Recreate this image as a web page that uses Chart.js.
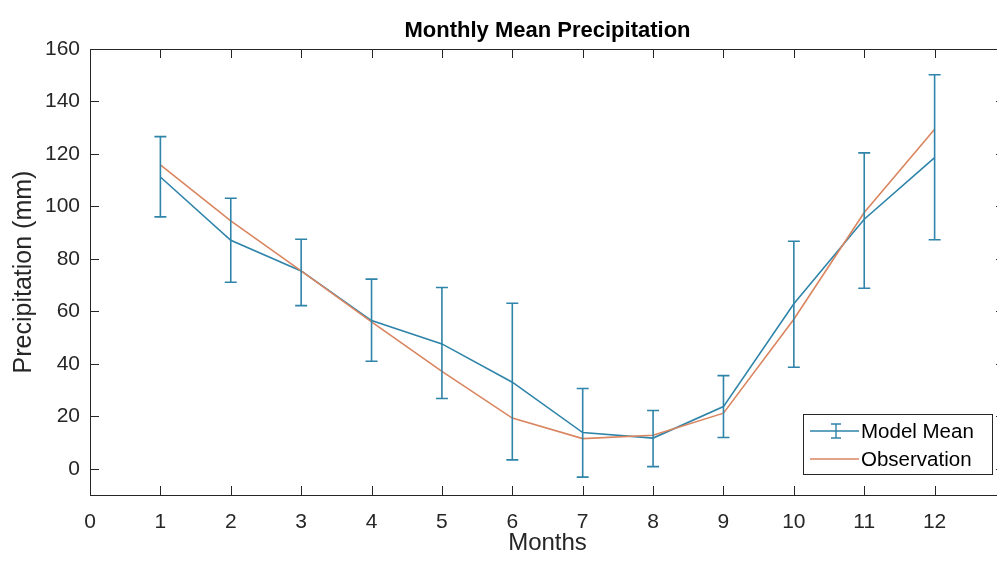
<!DOCTYPE html>
<html>
<head>
<meta charset="utf-8">
<script src="https://cdn.jsdelivr.net/npm/chart.js@4.4.1/dist/chart.umd.min.js"></script>
<style>
	html, body { margin: 0; padding: 0; background: #fff; overflow: hidden; }
	#wrap { width: 1012px; height: 563px; }
</style>
</head>
<body>
<div id="wrap"><canvas id="chartPrecip" width="1012" height="563"></canvas></div>
<script>
var months = [1, 2, 3, 4, 5, 6, 7, 8, 9, 10, 11, 12];
var modelMean = [111.2, 87.1, 75.4, 56.5, 47.6, 33.0, 13.8, 11.7, 23.7, 62.9, 95.1, 118.6];
var observation = [115.8, 94.5, 75.4, 56.0, 37.1, 19.3, 11.5, 12.8, 21.2, 57.0, 97.7, 129.4];
var errUpper = [126.6, 103.1, 87.5, 72.3, 69.1, 63.1, 30.6, 22.2, 35.5, 86.7, 120.4, 150.2];
var errLower = [96.0, 71.1, 62.2, 41.0, 26.8, 3.4, -3.2, 0.8, 11.9, 38.7, 68.8, 87.3];
var xTicks = [0, 1, 2, 3, 4, 5, 6, 7, 8, 9, 10, 11, 12];
var yTicks = [0, 20, 40, 60, 80, 100, 120, 140, 160];

var axisColor = '#262626';
var blue = '#2f84a9';
var orange = '#d9855f';
var family = "'Liberation Sans', Arial, Helvetica, sans-serif";

// matlab-ish box, inward ticks, errorbars, title and legend
var matlabPlugin = {
	id: 'matlab',
	afterDatasetsDraw(chart) {
		let ctx = chart.ctx;
		let x = chart.scales.x, y = chart.scales.y;
		ctx.save();
		ctx.strokeStyle = blue;
		ctx.lineWidth = 1.6;
		months.forEach((m, i) => {
			let px = x.getPixelForValue(m);
			let top = y.getPixelForValue(errUpper[i]);
			let bot = y.getPixelForValue(errLower[i]);
			ctx.beginPath();
			ctx.moveTo(px, top); ctx.lineTo(px, bot);
			ctx.moveTo(px - 6, top); ctx.lineTo(px + 6, top);
			ctx.moveTo(px - 6, bot); ctx.lineTo(px + 6, bot);
			ctx.stroke();
		});
		ctx.restore();
	},
	afterDraw(chart) {
		let ctx = chart.ctx;
		let a = chart.chartArea;
		let x = chart.scales.x, y = chart.scales.y;
		ctx.save();
		ctx.strokeStyle = axisColor;
		ctx.lineWidth = 1;
		ctx.strokeRect(Math.round(a.left) + 0.5, Math.round(a.top) + 0.5, Math.round(a.right - a.left), Math.round(a.bottom - a.top));

		ctx.beginPath();
		xTicks.forEach(v => {
			let px = Math.round(x.getPixelForValue(v)) + 0.5;
			ctx.moveTo(px, a.bottom); ctx.lineTo(px, a.bottom - 9);
			ctx.moveTo(px, a.top); ctx.lineTo(px, a.top + 9);
		});
		yTicks.forEach(v => {
			let py = Math.round(y.getPixelForValue(v)) + 0.5;
			ctx.moveTo(a.left, py); ctx.lineTo(a.left + 9, py);
			ctx.moveTo(a.right, py); ctx.lineTo(a.right - 9, py);
		});
		ctx.stroke();

		// title
		ctx.fillStyle = '#000';
		ctx.font = 'bold 22px ' + family;
		ctx.textAlign = 'center';
		ctx.textBaseline = 'alphabetic';
		ctx.fillText('Monthly Mean Precipitation', (a.left + a.right) / 2, 37);

		// legend
		let lx = 803, ly = 414, lw = 189, lh = 60;
		ctx.fillStyle = '#fff';
		ctx.fillRect(lx, ly, lw, lh);
		ctx.strokeStyle = axisColor;
		ctx.strokeRect(lx + 0.5, ly + 0.5, lw, lh);
		let rows = [
			{ label: chart.data.datasets[0].label, color: blue, yy: ly + 17, bar: true },
			{ label: chart.data.datasets[1].label, color: orange, yy: ly + 45, bar: false }
		];
		ctx.font = '20.5px ' + family;
		ctx.textAlign = 'left';
		ctx.textBaseline = 'middle';
		rows.forEach(r => {
			ctx.strokeStyle = r.color;
			ctx.lineWidth = 1.4;
			ctx.beginPath();
			ctx.moveTo(lx + 7, r.yy); ctx.lineTo(lx + 56, r.yy);
			if (r.bar) {
				let cx = lx + 33;
				ctx.moveTo(cx, r.yy - 7); ctx.lineTo(cx, r.yy + 7);
				ctx.moveTo(cx - 5, r.yy - 7); ctx.lineTo(cx + 5, r.yy - 7);
				ctx.moveTo(cx - 5, r.yy + 7); ctx.lineTo(cx + 5, r.yy + 7);
			}
			ctx.stroke();
			ctx.fillStyle = '#000';
			ctx.fillText(r.label, lx + 58, r.yy + 1);
		});
		ctx.restore();
	}
};

function makePoints(values) {
	return months.map((m, i) => ({ x: m, y: values[i] }));
}

var ctx = document.getElementById('chartPrecip').getContext('2d');
var chart = new Chart(ctx, {
	type: 'line',
	data: {
		datasets: [{
			label: 'Model Mean',
			data: makePoints(modelMean),
			borderColor: blue,
			borderWidth: 1.6,
			pointRadius: 0,
			tension: 0,
			order: 1
		},
		{
			label: 'Observation',
			data: makePoints(observation),
			borderColor: orange,
			borderWidth: 1.6,
			pointRadius: 0,
			tension: 0,
			order: 0
		}]
	},
	options: {
		responsive: false,
		animation: false,
		layout: { padding: { top: 49, right: 7, left: 0, bottom: 0 } },
		plugins: {
			legend: { display: false },
			title: { display: false },
			tooltip: { enabled: false }
		},
		scales: {
			x: {
				type: 'linear',
				min: 0,
				max: 13,
				afterFit: s => { s.height = 68; },
				afterBuildTicks: s => { s.ticks = xTicks.map(v => ({ value: v })); },
				grid: { display: false, drawTicks: false },
				border: { display: false },
				ticks: {
					padding: 15,
					color: axisColor,
					maxRotation: 0,
					font: { size: 21, family: family }
				},
				title: {
					display: true,
					text: 'Months',
					color: axisColor,
					padding: { top: 0, bottom: 5 },
					font: { size: 24, family: family }
				}
			},
			y: {
				min: -10,
				max: 160,
				afterFit: s => { s.width = 90; },
				afterBuildTicks: s => { s.ticks = yTicks.map(v => ({ value: v })); },
				grid: { display: false, drawTicks: false },
				border: { display: false },
				ticks: {
					padding: 10,
					color: axisColor,
					font: { size: 21, family: family }
				},
				title: {
					display: true,
					text: 'Precipitation (mm)',
					color: axisColor,
					padding: { top: 9, bottom: 0 },
					font: { size: 25, family: family }
				}
			}
		}
	},
	plugins: [matlabPlugin]
});
</script>
</body>
</html>
